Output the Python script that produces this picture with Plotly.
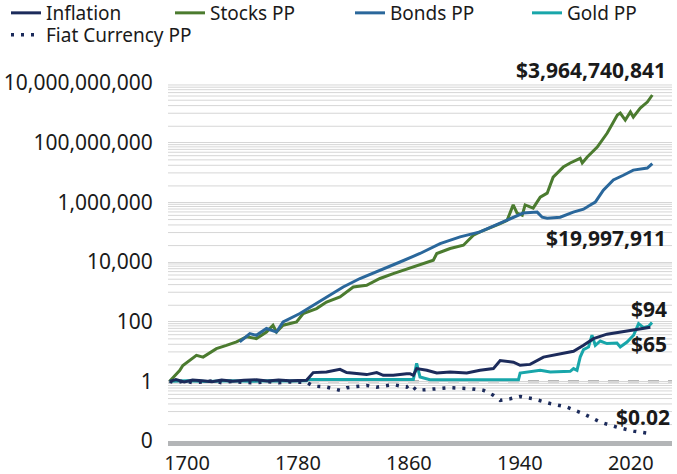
import math
import plotly.graph_objects as go

# ---------------- data ----------------
STOCKS_YEAR = [1687.5, 1690, 1694.7, 1697, 1706.8, 1711.6, 1721.2, 1728.4, 1735.7, 1742.9,
               1750, 1757.3, 1762, 1764.5, 1769.3, 1779, 1783.8, 1793.4, 1800.6, 1810.3,
               1819.9, 1829.5, 1839.1, 1848.7, 1863.2, 1877.6, 1880.1, 1889.7, 1899.3, 1906.5,
               1911.3, 1920.9, 1925.8, 1930.8, 1935.2, 1938, 1941.7, 1943.8, 1947.4, 1949.6,
               1954.7, 1959.7, 1964, 1971.3, 1976.3, 1983.5, 1985, 1988.6, 1995.8, 2003,
               2010.3, 2012.4, 2016, 2019.7, 2021.8, 2026.8, 2031.9, 2035.5]
STOCKS_PP = [1.0, 1.3, 2.3, 3.4, 7.4, 6.5, 12.5, 16, 21, 31,
             27, 45, 76, 45, 76, 98, 187, 275, 457, 676,
             1450, 1660, 2800, 4100, 6900, 11500, 19300, 28400, 36600, 79000,
             102000, 151000, 195000, 250000, 820000, 436000, 370000, 820000, 690000, 640000,
             1.49e6, 2.03e6, 7.0e6, 1.52e7, 2.08e7, 3.0e7, 2.08e7, 3.3e7, 7.1e7, 2.1e8,
             8.5e8, 9.8e8, 5.7e8, 1.07e9, 7.2e8, 1.45e9, 2.3e9, 3.96e9]

BONDS_YEAR = [1738, 1745.3, 1750, 1757.3, 1764.5, 1769.3, 1781.4, 1793.4, 1800.6, 1812.6,
              1824.7, 1836.8, 1853.6, 1868, 1882.5, 1896.9, 1911.3, 1925.8, 1935.2, 1942.4,
              1952.5, 1956.1, 1959.7, 1969.1, 1978.5, 1985.9, 1990.8, 1994.4, 2000.2, 2007.4,
              2014.6, 2021.8, 2031.9, 2035.5]
BONDS_PP = [21, 40, 35, 59, 45, 98, 187, 405, 676, 1450,
            2800, 4650, 10000, 19300, 41500, 69500, 102000, 200000, 317000, 436000,
            470000, 317000, 295000, 317000, 470000, 590000, 810000, 1.02e6, 2.57e6, 5.6e6,
            8.1e6, 1.2e7, 1.41e7, 2.0e7]

INFL_YEAR = [1687.5, 1692, 1698, 1704, 1711, 1718, 1725, 1733, 1741, 1750,
             1758, 1766, 1774, 1782, 1786.2, 1791, 1800.6, 1810.3, 1815.1, 1829.5,
             1836.8, 1841.5, 1848.7, 1858.4, 1860.8, 1863.2, 1865.6, 1872.9, 1880.1, 1889.7,
             1901.7, 1911.3, 1920.9, 1925.8, 1935.4, 1940.2, 1947.4, 1957, 1969.1, 1978.7,
             1985.9, 1993.1, 2002.8, 2017.3, 2026.8, 2034.1]
INFLATION = [1.0, 1.15, 0.95, 1.1, 1.05, 0.97, 1.1, 1.0, 1.08, 1.12,
             1.03, 1.1, 1.05, 1.1, 1.08, 1.96, 2.05, 2.53, 1.96, 1.68,
             1.96, 1.59, 1.59, 1.81, 1.81, 1.59, 2.67, 2.34, 1.9, 2.05,
             1.9, 2.34, 2.67, 5.0, 4.4, 3.45, 3.7, 6.5, 8.1, 10.2,
             16.2, 27, 38, 49, 59, 65]

GOLD_YEAR = [1687.5, 1700, 1715, 1730, 1745, 1760, 1775, 1786.2, 1787, 1810,
             1840, 1863.2, 1865.6, 1868, 1875.2, 1939, 1940.2, 1954.7, 1961.9, 1976.3,
             1978.7, 1981.2, 1983.5, 1985.9, 1989.5, 1992, 1994.4, 1998, 2002.8, 2010,
             2012.4, 2017.3, 2022, 2025.6, 2029.2, 2032.9, 2035.3]
GOLD_PP = [1.0, 1.05, 0.98, 1.05, 1.0, 1.05, 1.02, 1.04, 1.15, 1.15,
           1.2, 1.15, 4.0, 1.39, 1.14, 1.14, 1.9, 2.34, 2.05, 2.17,
           2.67, 2.34, 6.5, 11.6, 14.1, 35, 16.1, 22.5, 18.4, 19.3,
           14.1, 20.8, 35, 86, 63, 70, 94]

FIAT_YEAR = [1687.5, 1692, 1698, 1704, 1711, 1718, 1725, 1733, 1741, 1750,
             1758, 1766, 1774, 1782, 1786.2, 1791, 1800.6, 1810.3, 1815.1, 1829.5,
             1836.8, 1848.7, 1858.4, 1860.8, 1865.6, 1872.9, 1889.7, 1904.1, 1913.7, 1920.9,
             1925.8, 1933, 1940.2, 1949.8, 1961.9, 1973.9, 1985.9, 1998, 2010, 2022,
             2034.1]
FIAT_PP = [1.0, 0.87, 1.05, 0.9, 0.95, 1.03, 0.9, 1.0, 0.92, 0.89,
           0.97, 0.9, 0.95, 0.91, 0.93, 0.695, 0.64, 0.5, 0.61, 0.73,
           0.64, 0.775, 0.64, 0.79, 0.5, 0.53, 0.61, 0.57, 0.5, 0.34,
           0.23, 0.26, 0.31, 0.26, 0.18, 0.137, 0.082, 0.043, 0.029, 0.0214,
           0.0176]

X_TICKS = [1700, 1780, 1860, 1940, 2020]
Y_TICKS = [0.01, 1, 100, 1e4, 1e6, 1e8, 1e10]
Y_TICKTEXT = ["0", "1", "100", "10,000", "1,000,000", "100,000,000", "10,000,000,000"]

END_LABELS = ["$3,964,740,841", "$19,997,911", "$94", "$65", "$0.02"]

# ---------------- styling ----------------
NAVY = "#1c2b5b"
GREEN = "#4b7b2f"
BLUE = "#2a679b"
TEAL = "#18a6aa"
GRID = "#d6d6d6"
TXT = "#1a1a1a"
FONT = "Noto Sans"

fig = go.Figure()

fig.add_trace(go.Scatter(x=STOCKS_YEAR, y=STOCKS_PP, mode="lines", name="Stocks PP",
                         line=dict(color=GREEN, width=3), legend="legend2"))
fig.add_trace(go.Scatter(x=BONDS_YEAR, y=BONDS_PP, mode="lines", name="Bonds PP",
                         line=dict(color=BLUE, width=3), legend="legend3"))
fig.add_trace(go.Scatter(x=GOLD_YEAR, y=GOLD_PP, mode="lines", name="Gold PP",
                         line=dict(color=TEAL, width=3), legend="legend4"))
fig.add_trace(go.Scatter(x=INFL_YEAR, y=INFLATION, mode="lines", name="Inflation",
                         line=dict(color=NAVY, width=3), legend="legend"))
fig.add_trace(go.Scatter(x=FIAT_YEAR, y=FIAT_PP, mode="lines", name="Fiat Currency PP",
                         line=dict(color=NAVY, width=3.5, dash="3px,7px"), legend="legend5"))

# minor gridlines (style only): a fixed pattern below every labelled major tick
for k in range(0, 6):
    for i in range(1, 10):
        v = 10 ** (2 * k + 1.45 * math.log10(i / 10))
        fig.add_shape(type="line", xref="paper", x0=0, x1=1, yref="y", y0=v, y1=v,
                      line=dict(color=GRID, width=1), layer="below")

# dashed reference line at 1
fig.add_shape(type="line", xref="paper", x0=0, x1=1, yref="y", y0=1, y1=1,
              line=dict(color="#b5b5b5", width=2.5, dash="11px,9px"), layer="between")

# end labels
ann_pos = [(0.992, 1.035), (0.992, 0.567), (0.994, 0.369), (0.994, 0.271), (1.0, 0.068)]
for txt, (ax, ay) in zip(END_LABELS, ann_pos):
    fig.add_annotation(text="<b>" + txt + "</b>", xref="paper", yref="paper", x=ax, y=ay,
                       xanchor="right", yanchor="middle", showarrow=False,
                       font=dict(family=FONT, size=21, color=TXT))

leg_common = dict(xref="container", yref="paper", yanchor="top", xanchor="left",
                  orientation="v", bgcolor="rgba(0,0,0,0)", borderwidth=0,
                  font=dict(family=FONT, size=19, color=TXT), itemwidth=30)

def ptop(px):
    # legend top edge given in pixels from the top of the figure
    return (441 - px) / 358

fig.update_layout(
    width=677, height=474,
    margin=dict(l=168, r=5, t=83, b=33, autoexpand=False),
    paper_bgcolor="white", plot_bgcolor="white",
    font=dict(family=FONT, color=TXT),
    showlegend=True,
    legend=dict(x=6 / 677, y=ptop(-6), **leg_common),
    legend5=dict(x=6 / 677, y=ptop(16), **leg_common),
    legend2=dict(x=170 / 677, y=ptop(-6), **leg_common),
    legend3=dict(x=350 / 677, y=ptop(-6), **leg_common),
    legend4=dict(x=527 / 677, y=ptop(-6), **leg_common),
    xaxis=dict(range=[1686.3, 2049.7], tickvals=X_TICKS, showgrid=False, zeroline=False,
               showline=True, linecolor="#b3b5b7", linewidth=5, ticks="",
               tickfont=dict(family=FONT, size=20, color=TXT)),
    yaxis=dict(type="log", range=[-2, 10], tickvals=Y_TICKS, ticktext=Y_TICKTEXT,
               showgrid=True, gridcolor=GRID, gridwidth=1, zeroline=False, showline=False,
               ticks="outside", ticklen=10, tickcolor="rgba(0,0,0,0)",
               tickfont=dict(family=FONT, size=21, color=TXT)),
)

fig.write_html("out.html", post_script="document.body.style.margin='0';",
               config={"displayModeBar": False})
